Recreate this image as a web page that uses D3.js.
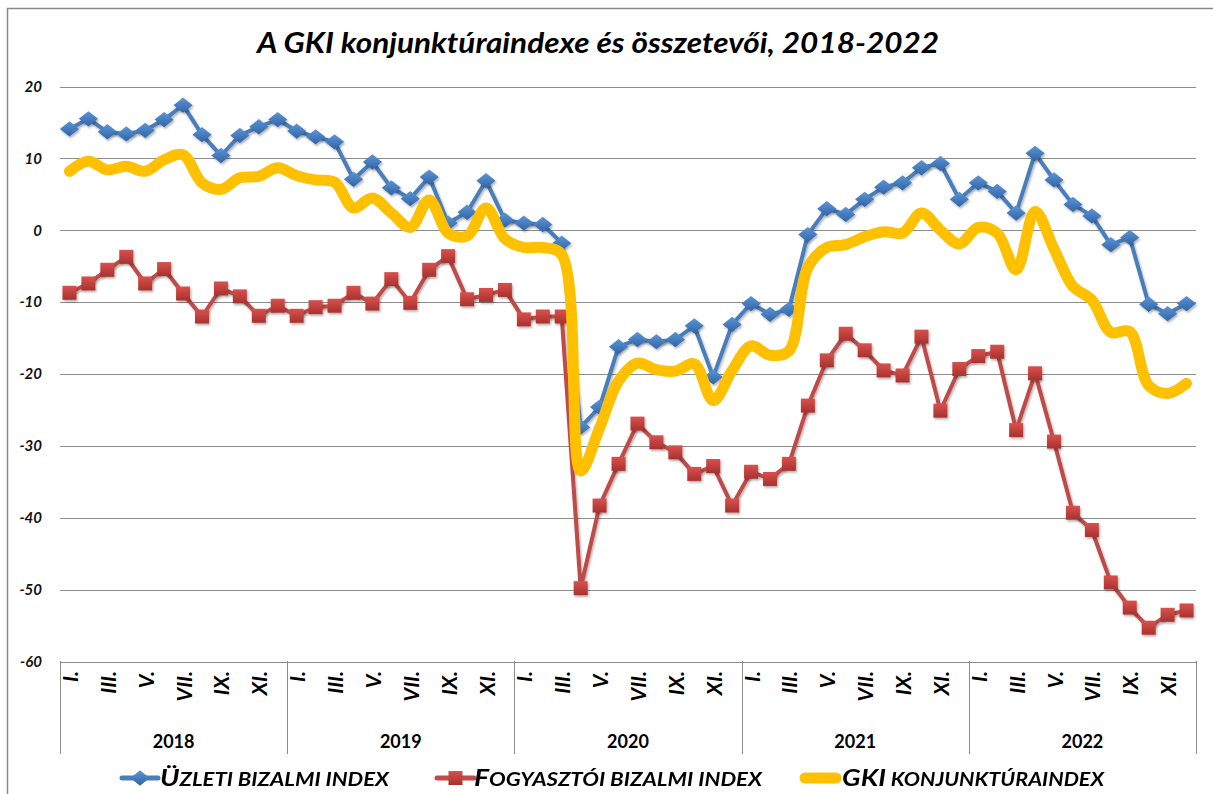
<!DOCTYPE html>
<html lang="hu">
<head>
<meta charset="UTF-8">
<title>A GKI konjunktúraindexe és összetevői, 2018-2022</title>
<script src="https://d3js.org/d3.v7.min.js"></script>
<style>
  body { margin: 0; background: #fff; }
  svg { display: block; font-family: Lato, "Open Sans", sans-serif; }
</style>
</head>
<body>
<div id="chart"></div>
<script>
// adatok
const years = ["2018", "2019", "2020", "2021", "2022"];
const months = ["I.", "II.", "III.", "IV.", "V.", "VI.", "VII.", "VIII.", "IX.", "X.", "XI.", "XII."];
const yTicks = [20, 10, 0, -10, -20, -30, -40, -50, -60];

const uzleti = [
  14.1, 15.5, 13.7, 13.4, 13.9, 15.4, 17.4, 13.3, 10.4, 13.2, 14.4, 15.4,
  13.8, 13.0, 12.3, 7.1, 9.5, 5.9, 4.4, 7.4, 1.0, 2.5, 6.9, 1.4,
  1.0, 0.8, -1.8, -27.4, -24.6, -16.2, -15.2, -15.5, -15.2, -13.3, -20.4, -13.1,
  -10.2, -11.7, -11.0, -0.6, 3.0, 2.2, 4.3, 6.0, 6.6, 8.7, 9.3, 4.3,
  6.6, 5.4, 2.4, 10.7, 7.0, 3.6, 2.0, -2.0, -1.0, -10.3, -11.6, -10.2
];
const fogyasztoi = [
  -8.7, -7.4, -5.5, -3.7, -7.4, -5.4, -8.8, -12.0, -8.1, -9.2, -11.9, -10.5,
  -11.9, -10.7, -10.5, -8.7, -10.2, -6.8, -10.1, -5.5, -3.6, -9.6, -9.0, -8.3,
  -12.4, -12.0, -12.0, -49.8, -38.3, -32.5, -26.9, -29.5, -30.9, -33.9, -32.8, -38.3,
  -33.6, -34.6, -32.5, -24.4, -18.1, -14.4, -16.7, -19.5, -20.2, -14.8, -25.1, -19.3,
  -17.5, -16.9, -27.8, -19.9, -29.4, -39.3, -41.7, -49.0, -52.5, -55.3, -53.5, -52.9
];
const gki = [
  8.2, 9.6, 8.4, 8.9, 8.2, 9.8, 10.5, 6.6, 5.7, 7.3, 7.5, 8.7,
  7.6, 7.0, 6.7, 3.1, 4.5, 2.4, 0.4, 4.2, -0.4, -0.8, 3.1, -1.2,
  -2.4, -2.4, -3.4, -33.5, -27.5, -21.0, -18.5, -19.4, -19.6, -18.6, -23.7, -19.5,
  -16.1, -17.4, -16.8, -5.2, -2.4, -2.0, -0.9, -0.2, -0.4, 2.4, 0.0, -1.9,
  0.4, -0.4, -5.5, 2.6, -2.6, -7.8, -9.7, -14.2, -14.1, -21.6, -22.7, -21.3
];

const width = 1213, height = 794;
const categories = years.flatMap(y => months.map(m => y + "-" + m));

const svg = d3.select("#chart").append("svg")
  .attr("width", width)
  .attr("height", height);

// keret
svg.append("path")
  .attr("d", "M7.5,794 V8.5 H1213")
  .attr("fill", "none")
  .attr("stroke", "#8a8a8a")
  .attr("stroke-width", 1.5);

const x = d3.scaleBand().domain(categories).range([60, 1196]);
const y = d3.scaleLinear().domain([-60, 20]).range([661.5, 86.5]);
const cx = i => x(categories[i]) + x.bandwidth() / 2;

const defs = svg.append("defs");
const sh = defs.append("filter").attr("id", "shadow")
  .attr("x", "-30%").attr("y", "-30%").attr("width", "160%").attr("height", "160%");
sh.append("feDropShadow").attr("dx", 1.2).attr("dy", 1.8).attr("stdDeviation", 1.2)
  .attr("flood-color", "#000").attr("flood-opacity", 0.3);

const gRed = defs.append("linearGradient").attr("id", "gRed").attr("x1", 0).attr("y1", 0).attr("x2", 0).attr("y2", 1);
gRed.append("stop").attr("offset", "0%").attr("stop-color", "#d9514d");
gRed.append("stop").attr("offset", "100%").attr("stop-color", "#a8312e");
const gBlue = defs.append("linearGradient").attr("id", "gBlue").attr("x1", 0).attr("y1", 0).attr("x2", 0).attr("y2", 1);
gBlue.append("stop").attr("offset", "0%").attr("stop-color", "#5d95d6");
gBlue.append("stop").attr("offset", "100%").attr("stop-color", "#2f64a6");

// cím
svg.append("text")
  .attr("x", 598).attr("y", 53)
  .attr("text-anchor", "middle")
  .attr("font-size", 28).attr("font-weight", "bold").attr("font-style", "italic")
  .attr("textLength", 682).attr("lengthAdjust", "spacingAndGlyphs")
  .attr("fill", "#000")
  .text("A GKI konjunktúraindexe és összetevői, 2018-2022");

// rácsvonalak
svg.append("g").selectAll("line")
  .data(yTicks)
  .join("line")
  .attr("x1", 60).attr("x2", 1196)
  .attr("y1", d => Math.round(y(d)) + 0.5).attr("y2", d => Math.round(y(d)) + 0.5)
  .attr("stroke", "#8c8c8c").attr("stroke-width", 1);

svg.append("g").selectAll("text")
  .data(yTicks)
  .join("text")
  .attr("x", 42).attr("y", d => y(d))
  .attr("dy", "0.35em")
  .attr("text-anchor", "end")
  .attr("font-size", 15).attr("font-weight", "bold").attr("font-style", "italic")
  .attr("fill", "#111")
  .text(d => d);

// kategória tengely
const yearBounds = years.map(yr => x(yr + "-I.")).concat([1196]);
svg.append("g").selectAll("line")
  .data(yearBounds)
  .join("line")
  .attr("x1", d => Math.round(d) + 0.5).attr("x2", d => Math.round(d) + 0.5)
  .attr("y1", 661).attr("y2", 754)
  .attr("stroke", "#8c8c8c").attr("stroke-width", 1);

svg.append("g").selectAll("text")
  .data(categories.filter((c, i) => i % 2 === 0))
  .join("text")
  .attr("transform", d => `translate(${x(d) + x.bandwidth() / 2 + 1},671) rotate(-90)`)
  .attr("text-anchor", "end")
  .attr("dy", "0.36em")
  .attr("font-size", 21).attr("font-weight", "bold").attr("font-style", "italic")
  .attr("fill", "#000")
  .text(d => d.split("-")[1]);

svg.append("g").selectAll("text")
  .data(years)
  .join("text")
  .attr("x", (d, k) => (yearBounds[k] + yearBounds[k + 1]) / 2)
  .attr("y", 748)
  .attr("text-anchor", "middle")
  .attr("font-size", 18).attr("font-weight", "bold")
  .attr("fill", "#000")
  .text(d => d);

// vonalak
const line = d3.line().x((d, i) => cx(i)).y(d => y(d));

svg.append("path")
  .datum(uzleti)
  .attr("fill", "none").attr("stroke", "#4a7ebb").attr("stroke-width", 4)
  .attr("stroke-linejoin", "round")
  .attr("filter", "url(#shadow)")
  .attr("d", line);
svg.append("g").attr("filter", "url(#shadow)").selectAll("path")
  .data(uzleti)
  .join("path")
  .attr("d", d3.symbol(d3.symbolDiamond2, 150))
  .attr("transform", (d, i) => `translate(${cx(i)},${y(d)}) scale(1.25,1)`)
  .attr("fill", "url(#gBlue)");

svg.append("path")
  .datum(fogyasztoi)
  .attr("fill", "none").attr("stroke", "#be4b48").attr("stroke-width", 4)
  .attr("stroke-linejoin", "round")
  .attr("filter", "url(#shadow)")
  .attr("d", line);
svg.append("g").attr("filter", "url(#shadow)").selectAll("rect")
  .data(fogyasztoi)
  .join("rect")
  .attr("x", (d, i) => cx(i) - 7).attr("y", d => y(d) - 7)
  .attr("width", 14).attr("height", 14)
  .attr("fill", "url(#gRed)");

svg.append("path")
  .datum(gki)
  .attr("fill", "none").attr("stroke", "#ffc000").attr("stroke-width", 11)
  .attr("stroke-linecap", "round").attr("stroke-linejoin", "round")
  .attr("d", line.curve(d3.curveCatmullRom.alpha(0.5)));

// jelmagyarázat
const legend = [
  { big: "Ü", small: "ZLETI BIZALMI INDEX", color: "#4a7ebb", mark: "diamond", x1: 122, x2: 158, tx: 160, tw: 229 },
  { big: "F", small: "OGYASZTÓI BIZALMI INDEX", color: "#be4b48", mark: "square", x1: 437, x2: 474, tx: 474, tw: 288 },
  { big: "GKI", small: " KONJUNKTÚRAINDEX", color: "#ffc000", mark: "none", x1: 805, x2: 836, tx: 842, tw: 262 }
];
const lg = svg.append("g").selectAll("g").data(legend).join("g");
lg.append("line")
  .attr("x1", d => d.x1).attr("x2", d => d.x2)
  .attr("y1", 778).attr("y2", 778)
  .attr("stroke", d => d.color)
  .attr("stroke-width", d => d.mark === "none" ? 11 : 5)
  .attr("stroke-linecap", "round");
lg.filter(d => d.mark === "diamond").append("path")
  .attr("d", d3.symbol(d3.symbolDiamond2, 150))
  .attr("transform", d => `translate(${(d.x1 + d.x2) / 2},778) scale(1.25,1)`)
  .attr("fill", "url(#gBlue)");
lg.filter(d => d.mark === "square").append("rect")
  .attr("x", d => (d.x1 + d.x2) / 2 - 7).attr("y", 771)
  .attr("width", 14).attr("height", 14)
  .attr("fill", "url(#gRed)");
const lt = lg.append("text")
  .attr("x", d => d.tx).attr("y", 786)
  .attr("font-weight", "bold").attr("font-style", "italic")
  .attr("fill", "#000")
  .attr("textLength", d => d.tw).attr("lengthAdjust", "spacingAndGlyphs");
lt.append("tspan").attr("font-size", 23).text(d => d.big);
lt.append("tspan").attr("font-size", 18).text(d => d.small);
</script>
</body>
</html>
